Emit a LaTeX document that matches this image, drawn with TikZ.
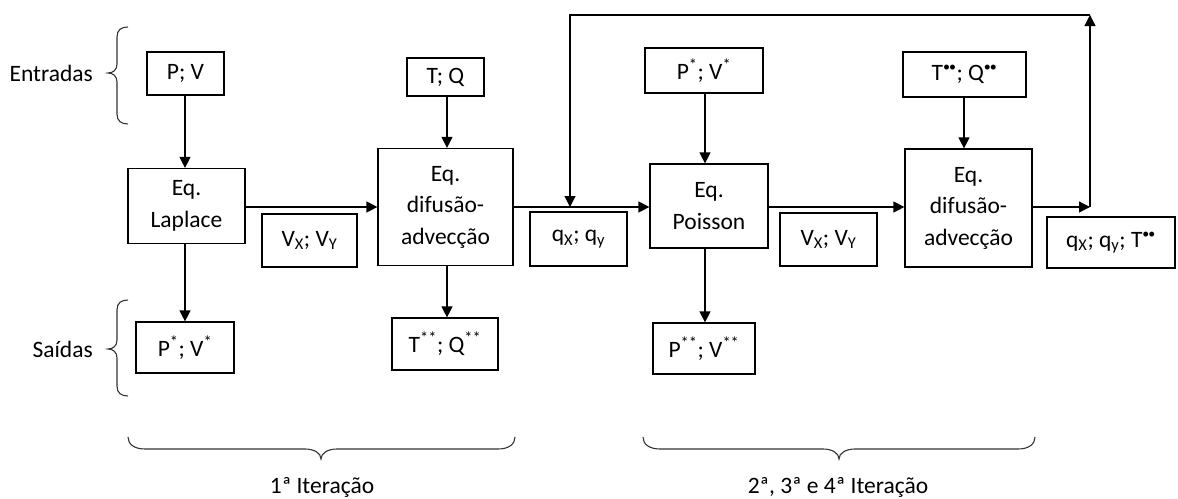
\documentclass[tikz,border=0pt]{standalone}
\usepackage{fontspec}
\setmainfont{Carlito}
\usetikzlibrary{arrows.meta}
\newcommand{\dd}{\textsuperscript{\fontsize{14}{14}\selectfont\textbullet\kern-1pt\textbullet}}
\begin{document}
\begin{tikzpicture}[x=1pt,y=-1pt,
  box/.style={draw, line width=1.2pt, inner sep=0pt, align=center, font=\fontsize{23.5}{31.5}\selectfont},
  arr/.style={line width=1.2pt, -{Triangle[length=11pt,width=11pt]}},
  brc/.style={line width=1.1pt, draw=black!80},
  lbl/.style={font=\fontsize{23.5}{28}\selectfont, inner sep=0pt}
]
\useasboundingbox (0,0) rectangle (1178,498);
% boxes
\node[box, minimum width=77pt, minimum height=43pt] (pv) at (185.5,73.5) {P; V};
\node[box, minimum width=117pt, minimum height=75pt] (lap) at (186.5,206) {Eq.\\Laplace};
\node[box, minimum width=98pt, minimum height=51pt] (pvs) at (185,347.5) {P\textsuperscript{*}; V\textsuperscript{*}};
\node[box, minimum width=95pt, minimum height=53pt] (vxy1) at (309.5,240.5) {V\textsubscript{X}; V\textsubscript{Y}};
\node[box, minimum width=77pt, minimum height=38pt] (tq) at (445.5,77) {T; Q};
\node[box, minimum width=135pt, minimum height=117pt] (dif1) at (445.5,207) {Eq.\\difusão-\\advecção};
\node[box, minimum width=106pt, minimum height=52pt] (tqss) at (445,344) {T\textsuperscript{**}; Q\textsuperscript{**}};
\node[box, minimum width=97pt, minimum height=54pt] (qxy) at (578.5,239) {q\textsubscript{X}; q\textsubscript{y}};
\node[box, minimum width=118pt, minimum height=45pt] (pvs2) at (704,70.5) {P\textsuperscript{*}; V\textsuperscript{*}};
\node[box, minimum width=118pt, minimum height=84pt] (poi) at (709,206) {Eq.\\Poisson};
\node[box, minimum width=102pt, minimum height=51pt] (pvss) at (704,348.5) {P\textsuperscript{**}; V\textsuperscript{**}};
\node[box, minimum width=97pt, minimum height=53pt] (vxy2) at (828.5,239.5) {V\textsubscript{X}; V\textsubscript{Y}};
\node[box, minimum width=123pt, minimum height=45pt] (tqss2) at (964.5,74.5) {T\dd; Q\dd};
\node[box, minimum width=127pt, minimum height=118pt] (dif2) at (968.5,208) {Eq.\\difusão-\\advecção};
\node[box, minimum width=128pt, minimum height=51pt] (qxyt) at (1111,242.5) {q\textsubscript{X}; q\textsubscript{y}; T\dd};
% labels
\node[lbl, anchor=east] (ent) at (93,73) {Entradas};
\node[lbl, anchor=east] (sai) at (93,349) {Saídas};
\node[lbl] (it1) at (322,487) {1ª Iteração};
\node[lbl] (it2) at (838,487) {2ª, 3ª e 4ª Iteração};
% coordinates
\coordinate (c1) at (1090,207);
\coordinate (c2) at (1090,15);
\coordinate (c3) at (570,15);
\coordinate (fb) at (570,207);
% vertical arrows
\draw[arr] (pv.south -| 185,0) -- (lap.north -| 185,0);
\draw[arr] (lap.south -| 185,0) -- (pvs.north -| 185,0);
\draw[arr] (tq.south -| 447,0) -- (dif1.north -| 447,0);
\draw[arr] (dif1.south -| 447,0) -- (tqss.north -| 447,0);
\draw[arr] (pvs2.south -| 705,0) -- (poi.north -| 705,0);
\draw[arr] (poi.south -| 705,0) -- (pvss.north -| 705,0);
\draw[arr] (tqss2.south -| 964,0) -- (dif2.north -| 964,0);
% horizontal arrows
\draw[arr] (lap.east |- 0,207) -- (dif1.west |- 0,207);
\draw[arr] (dif1.east |- 0,207) -- (poi.west |- 0,207);
\draw[arr] (poi.east |- 0,207) -- (dif2.west |- 0,207);
\draw[arr] (dif2.east |- 0,207) -- (c1);
\draw[arr] (c1) -- (c2);
\draw[arr] (c2) -- (c3) -- (fb);
% braces
\draw[brc] (128,27) .. controls (121,27) and (117,30) .. (117,37) -- (117,64) .. controls (117,70) and (113,73) .. (108,73) .. controls (113,73) and (117,76) .. (117,82) -- (117,114) .. controls (117,121) and (121,124) .. (128,124);
\draw[brc] (128,300) .. controls (121,300) and (117,303) .. (117,310) -- (117,340) .. controls (117,346) and (113,349) .. (108,349) .. controls (113,349) and (117,352) .. (117,358) -- (117,386) .. controls (117,393) and (121,396) .. (128,396);
\draw[brc] (128,437) .. controls (128,444) and (134,449) .. (145,449) -- (305,449) .. controls (314,449) and (321,453) .. (321,459) .. controls (321,453) and (328,449) .. (337,449) -- (498,449) .. controls (509,449) and (515,444) .. (515,437);
\draw[brc] (643,437) .. controls (643,444) and (649,449) .. (660,449) -- (823,449) .. controls (832,449) and (839,453) .. (839,459) .. controls (839,453) and (846,449) .. (855,449) -- (1018,449) .. controls (1029,449) and (1035,444) .. (1035,437);
\end{tikzpicture}
\end{document}
